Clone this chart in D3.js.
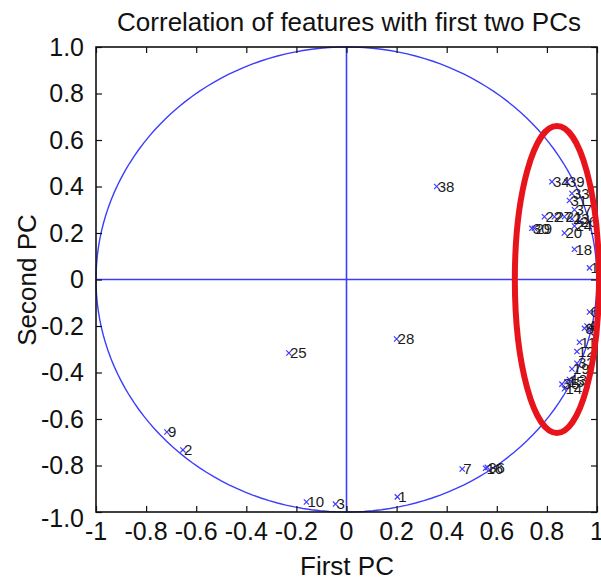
<!DOCTYPE html>
<html>
<head>
<meta charset="utf-8">
<script src="https://cdn.jsdelivr.net/npm/d3@7"></script>
<style>
  html, body { margin: 0; padding: 0; background: #fff; }
  svg { display: block; }
  text { font-family: "Liberation Sans", Arial, sans-serif; }
</style>
</head>
<body>
<svg id="chart" width="601" height="580"></svg>
<script>
// ---- data ----
const featureLabels = ["38","28","25","9","2","10","3","1","7","16","36",
  "34","39","33","31","37","22","27","21","23","26","24","30","29","20","18","17",
  "6","4","5","8","11","12","32","19","13","15","35","14"];
const pc1 = [0.36, 0.20, -0.23, -0.717, -0.653, -0.16, -0.044, 0.203, 0.462, 0.555, 0.562,
  0.82, 0.88, 0.90, 0.89, 0.91, 0.79, 0.83, 0.87, 0.90, 0.93, 0.91, 0.74, 0.75, 0.87, 0.91, 0.97,
  0.97, 0.96, 0.97, 0.95, 0.93, 0.92, 0.92, 0.90, 0.89, 0.88, 0.86, 0.87];
const pc2 = [0.40, -0.256, -0.316, -0.656, -0.733, -0.957, -0.966, -0.935, -0.815, -0.812, -0.808,
  0.42, 0.42, 0.37, 0.34, 0.30, 0.27, 0.27, 0.27, 0.26, 0.25, 0.23, 0.22, 0.22, 0.20, 0.13, 0.05,
  -0.14, -0.20, -0.22, -0.21, -0.27, -0.31, -0.36, -0.385, -0.43, -0.44, -0.45, -0.47];
const xTicks = [-1, -0.8, -0.6, -0.4, -0.2, 0, 0.2, 0.4, 0.6, 0.8, 1];
const xTickLabels = ["-1","-0.8","-0.6","-0.4","-0.2","0","0.2","0.4","0.6","0.8","1"];
const yTicks = [-1, -0.8, -0.6, -0.4, -0.2, 0, 0.2, 0.4, 0.6, 0.8, 1];
const yTickLabels = ["-1.0","-0.8","-0.6","-0.4","-0.2","0","0.2","0.4","0.6","0.8","1.0"];
const highlightCenter = [0.84, 0.0];
const highlightRadii = [0.168, 0.66];
const titleText = "Correlation of features with first two PCs";
const xLabelText = "First PC";
const yLabelText = "Second PC";

// ---- layout ----
const svg = d3.select("#chart");
const L = 96, R = 597, T = 47, B = 512;
const x = d3.scaleLinear().domain([-1, 1]).range([L, R]);
const y = d3.scaleLinear().domain([-1, 1]).range([B, T]);
const blue = "#3c3cff";

// unit circle (ellipse in pixel space)
const circ = d3.range(0, 361, 2).map(a => [Math.cos(a * Math.PI / 180), Math.sin(a * Math.PI / 180)]);
svg.append("path")
  .attr("d", d3.line().x(d => x(d[0])).y(d => y(d[1]))(circ))
  .attr("fill", "none").attr("stroke", blue).attr("stroke-width", 1.4);

// zero lines
svg.append("line").attr("x1", x(-1)).attr("x2", x(1)).attr("y1", y(0)).attr("y2", y(0))
  .attr("stroke", blue).attr("stroke-width", 1.6);
svg.append("line").attr("x1", x(0)).attr("x2", x(0)).attr("y1", y(-1)).attr("y2", y(1))
  .attr("stroke", blue).attr("stroke-width", 1.6);

// axes ticks (inward)
const tickLen = 6;
svg.append("g").attr("transform", `translate(0,${B})`)
  .call(d3.axisBottom(x).tickValues(xTicks).tickSizeInner(-tickLen).tickSizeOuter(0).tickFormat(""))
  .call(g => g.select(".domain").remove());
svg.append("g").attr("transform", `translate(0,${T})`)
  .call(d3.axisTop(x).tickValues(xTicks).tickSizeInner(-tickLen).tickSizeOuter(0).tickFormat(""))
  .call(g => g.select(".domain").remove());
svg.append("g").attr("transform", `translate(${L},0)`)
  .call(d3.axisLeft(y).tickValues(yTicks).tickSizeInner(-tickLen).tickSizeOuter(0).tickFormat(""))
  .call(g => g.select(".domain").remove());
svg.append("g").attr("transform", `translate(${R},0)`)
  .call(d3.axisRight(y).tickValues(yTicks).tickSizeInner(-tickLen).tickSizeOuter(0).tickFormat(""))
  .call(g => g.select(".domain").remove());
svg.selectAll(".tick line").attr("stroke", "#111").attr("stroke-width", 1.2);

// box
svg.append("rect").attr("x", L).attr("y", T).attr("width", R - L).attr("height", B - T)
  .attr("fill", "none").attr("stroke", "#111").attr("stroke-width", 1.6);

// tick labels
const tickFont = 25;
svg.append("g").selectAll("text").data(xTicks).join("text")
  .attr("x", d => x(d)).attr("y", 540)
  .attr("text-anchor", "middle").attr("font-size", tickFont).attr("fill", "#111")
  .text((d, i) => xTickLabels[i]);
svg.append("g").selectAll("text").data(yTicks).join("text")
  .attr("x", 84).attr("y", d => (d === -1 ? y(d) + 6 : y(d)))
  .attr("dy", "0.35em")
  .attr("text-anchor", "end").attr("font-size", tickFont).attr("fill", "#111")
  .text((d, i) => yTickLabels[i]);

// points
const pts = featureLabels.map((lab, i) => ({ lab, px: pc1[i], py: pc2[i] }));
const ms = 2.6;
const pg = svg.append("g");
pg.selectAll("path.mk").data(pts).join("path").attr("class", "mk")
  .attr("d", d => {
    const cx = x(d.px), cy = y(d.py);
    return `M${cx - ms},${cy - ms}L${cx + ms},${cy + ms}M${cx - ms},${cy + ms}L${cx + ms},${cy - ms}`;
  })
  .attr("stroke", blue).attr("stroke-width", 1.2).attr("fill", "none");
pg.selectAll("text").data(pts).join("text")
  .attr("x", d => x(d.px) + 1).attr("y", d => y(d.py)).attr("dy", "0.35em")
  .attr("font-size", 15).attr("fill", "#1a1a1a")
  .text(d => d.lab);

// highlight ellipse
svg.append("ellipse")
  .attr("cx", x(highlightCenter[0])).attr("cy", y(highlightCenter[1]))
  .attr("rx", x(highlightRadii[0]) - x(0)).attr("ry", y(0) - y(highlightRadii[1]))
  .attr("fill", "none").attr("stroke", "#e8141c").attr("stroke-width", 6);

// title & axis labels
svg.append("text").attr("x", 349).attr("y", 31).attr("text-anchor", "middle")
  .attr("font-size", 26).attr("fill", "#111").text(titleText);
svg.append("text").attr("x", 347).attr("y", 575).attr("text-anchor", "middle")
  .attr("font-size", 26).attr("fill", "#111").text(xLabelText);
svg.append("text").attr("transform", "translate(36,280) rotate(-90)").attr("text-anchor", "middle")
  .attr("font-size", 26).attr("fill", "#111").text(yLabelText);
</script>
</body>
</html>
